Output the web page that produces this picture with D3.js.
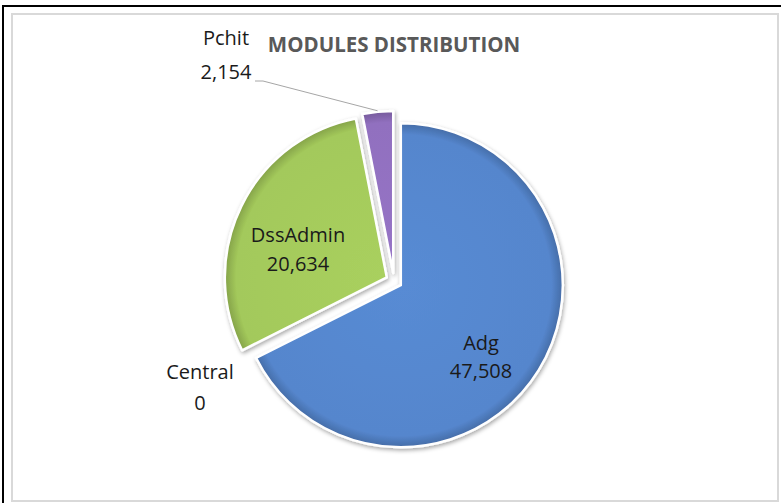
<!DOCTYPE html>
<html>
<head>
<meta charset="utf-8">
<script src="https://cdn.jsdelivr.net/npm/d3@7"></script>
<style>
    body { margin: 0; background: #fff; }
    svg { display: block; }
</style>
</head>
<body>
<div id="chart"></div>
<script>
// data
var modules = ["Adg", "Central", "DssAdmin", "Pchit"];
var counts = [47508, 0, 20634, 2154];
var colors = ["#5586cd", "#c0504d", "#a3c95b", "#9170bf"];
var title = "MODULES DISTRIBUTION";

var width = 781, height = 503;
var cx = 394, cy = 281, radius = 162, explode = 8;

var svg = d3.select("#chart").append("svg")
    .attr("width", width)
    .attr("height", height);

// frame lines
svg.append("line").attr("x1", 3).attr("x2", width).attr("y1", 6).attr("y2", 6)
    .attr("stroke", "#000").attr("stroke-width", 2);
svg.append("line").attr("x1", 3).attr("x2", 3).attr("y1", 5).attr("y2", height)
    .attr("stroke", "#000").attr("stroke-width", 2);
svg.append("rect").attr("x", 12).attr("y", 14).attr("width", 766).attr("height", 487)
    .attr("fill", "#fff").attr("stroke", "#d9d9d9").attr("stroke-width", 2);

// shadow + gradients
var defs = svg.append("defs");
var f = defs.append("filter").attr("id", "shadow")
    .attr("x", "-20%").attr("y", "-20%").attr("width", "140%").attr("height", "140%");
f.append("feDropShadow").attr("dx", 1).attr("dy", 2).attr("stdDeviation", 2)
    .attr("flood-color", "#000").attr("flood-opacity", 0.35);

colors.forEach(function(c, i) {
    var g = defs.append("radialGradient").attr("id", "grad" + i)
        .attr("gradientUnits", "userSpaceOnUse")
        .attr("cx", 0).attr("cy", 0).attr("r", radius);
    g.append("stop").attr("offset", "0%").attr("stop-color", d3.color(c).brighter(0.1));
    g.append("stop").attr("offset", "93%").attr("stop-color", c);
    g.append("stop").attr("offset", "100%").attr("stop-color", d3.color(c).darker(0.6));
});

var pie = d3.pie().sort(null).value(function(d) { return d; });
var arcs = pie(counts);
var arc = d3.arc().innerRadius(0).outerRadius(radius);

var chart = svg.append("g").attr("transform", "translate(" + cx + "," + cy + ")");

function offset(d, r) {
    var a = (d.startAngle + d.endAngle) / 2;
    return [Math.sin(a) * r, -Math.cos(a) * r];
}

var slices = chart.selectAll(".slice")
    .data(arcs)
    .enter().append("g")
    .attr("class", "slice")
    .attr("transform", function(d) {
        var o = offset(d, explode);
        return "translate(" + o[0] + "," + o[1] + ")";
    });

slices.filter(function(d) { return d.value > 0; })
    .append("path")
    .attr("d", arc)
    .attr("fill", function(d) { return "url(#grad" + d.index + ")"; })
    .attr("stroke", "#fff")
    .attr("stroke-width", 2.5)
    .attr("stroke-linejoin", "round")
    .attr("filter", "url(#shadow)");

// title
svg.append("text")
    .attr("x", 394).attr("y", 52)
    .attr("text-anchor", "middle")
    .attr("font-family", "'Open Sans', sans-serif")
    .attr("font-weight", "bold")
    .attr("font-size", 20.5)
    .attr("fill", "#595959")
    .text(title);

// data labels: baseline of first line, relative to pie center
var labelAt = [[87, 69], [-194, 98], [-96, -39], [-168, -236]];
var lineGap = [28, 31, 29, 34];

var labels = chart.selectAll(".label")
    .data(arcs)
    .enter().append("text")
    .attr("class", "label")
    .attr("text-anchor", "middle")
    .attr("font-family", "'Open Sans', sans-serif")
    .attr("font-size", 20)
    .attr("fill", "#1a1a1a")
    .attr("transform", function(d) {
        var p = labelAt[d.index];
        return "translate(" + p[0] + "," + p[1] + ")";
    });

labels.append("tspan").attr("x", 0).attr("y", 0)
    .text(function(d) { return modules[d.index]; });
labels.append("tspan").attr("x", 0).attr("y", function(d) { return lineGap[d.index]; })
    .text(function(d) { return d3.format(",")(d.value); });

// leader line for Pchit
var tip = offset(arcs[3], explode + radius + 1);
chart.append("polyline")
    .attr("points", [[-139, -200], [-131, -200], tip].map(function(p) { return p.join(","); }).join(" "))
    .attr("fill", "none")
    .attr("stroke", "#a6a6a6")
    .attr("stroke-width", 1);
</script>
</body>
</html>
